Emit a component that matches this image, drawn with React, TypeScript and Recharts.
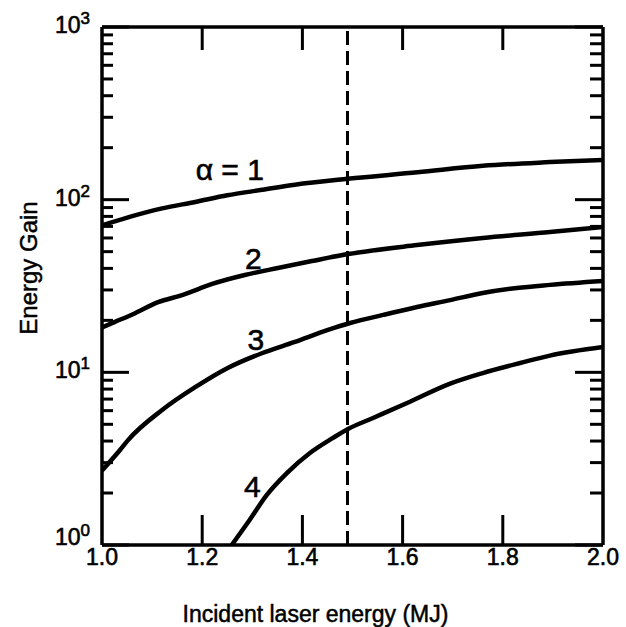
import React from 'react';
import { LineChart, Line, XAxis, YAxis, ReferenceLine, ReferenceDot } from 'recharts';

const FONT = '"Liberation Sans", Arial, Helvetica, sans-serif';

const xTicks = [1.0, 1.2, 1.4, 1.6, 1.8, 2.0];
const topTicks = [1.2, 1.4, 1.6, 1.8];
const yTicks = [
  1, 2, 3, 4, 5, 6, 7, 8, 9,
  10, 20, 30, 40, 50, 60, 70, 80, 90,
  100, 200, 300, 400, 500, 600, 700, 800, 900,
  1000,
];

const alpha1 = [
  { x: 1.0, y: 71 }, { x: 1.052, y: 79 }, { x: 1.12, y: 89 }, { x: 1.186, y: 97 },
  { x: 1.25, y: 106 }, { x: 1.32, y: 114 }, { x: 1.385, y: 122 }, { x: 1.49, y: 132 },
  { x: 1.63, y: 144 }, { x: 1.76, y: 157 }, { x: 1.894, y: 165 }, { x: 2.0, y: 170 },
];
const alpha2 = [
  { x: 1.0, y: 18.2 }, { x: 1.026, y: 19.6 }, { x: 1.066, y: 22.0 }, { x: 1.112, y: 25.5 },
  { x: 1.16, y: 28.0 }, { x: 1.22, y: 32.5 }, { x: 1.285, y: 36.6 }, { x: 1.351, y: 40.2 },
  { x: 1.419, y: 44.1 }, { x: 1.491, y: 48.4 }, { x: 1.629, y: 54.6 }, { x: 1.76, y: 60 },
  { x: 1.894, y: 64.9 }, { x: 2.0, y: 69.4 },
];
const alpha3 = [
  { x: 1.0, y: 2.7 }, { x: 1.036, y: 3.55 }, { x: 1.052, y: 4.05 }, { x: 1.12, y: 6.05 },
  { x: 1.186, y: 8.2 }, { x: 1.251, y: 10.6 }, { x: 1.319, y: 12.9 }, { x: 1.385, y: 15.0 },
  { x: 1.451, y: 17.6 }, { x: 1.495, y: 19.3 }, { x: 1.561, y: 21.5 }, { x: 1.629, y: 23.9 },
  { x: 1.695, y: 26.2 }, { x: 1.76, y: 28.8 }, { x: 1.828, y: 30.8 }, { x: 1.894, y: 32.1 },
  { x: 2.0, y: 33.8 },
];
const alpha4 = [
  { x: 1.259, y: 1.0 }, { x: 1.295, y: 1.4 }, { x: 1.329, y: 1.95 }, { x: 1.369, y: 2.61 },
  { x: 1.415, y: 3.41 }, { x: 1.461, y: 4.17 }, { x: 1.491, y: 4.7 }, { x: 1.541, y: 5.44 },
  { x: 1.609, y: 6.64 }, { x: 1.695, y: 8.6 }, { x: 1.76, y: 9.9 }, { x: 1.828, y: 11.2 },
  { x: 1.894, y: 12.5 }, { x: 2.0, y: 14.0 },
];

const curveLabels = [
  { text: 'α = 1', x: 1.255, y: 150 },
  { text: '2', x: 1.302, y: 46 },
  { text: '3', x: 1.307, y: 15.6 },
  { text: '4', x: 1.3, y: 2.2 },
];

const referenceEnergy = 1.49;

const isMajor = (v: number) => {
  const e = Math.round(Math.log10(v));
  return Math.abs(Math.pow(10, e) - v) < 1e-9;
};

const LeftTick = (props: any) => {
  const { x, y, payload } = props;
  const v = Number(payload.value);
  const major = isMajor(v);
  const e = Math.round(Math.log10(v));
  return (
    <g>
      <line x1={x} y1={y} x2={x + (major ? 27 : 11)} y2={y} stroke="#000" strokeWidth={3} />
      {major ? (
        <text x={x - 12} y={y + (e === 0 ? 0 : 6)} textAnchor="end" fontSize={23} fontFamily={FONT} fill="#000" stroke="#000" strokeWidth={0.6}>
          10
          <tspan dy={-9} fontSize={17}>{e}</tspan>
        </text>
      ) : null}
    </g>
  );
};

const RightTick = (props: any) => {
  const { x, y, payload } = props;
  const major = isMajor(Number(payload.value));
  return <line x1={x} y1={y} x2={x - (major ? 28 : 13)} y2={y} stroke="#000" strokeWidth={3} />;
};

const BottomTick = (props: any) => {
  const { x, y, payload } = props;
  const v = Number(payload.value);
  const edge = Math.abs(v - 1) < 1e-9 || Math.abs(v - 2) < 1e-9;
  return (
    <g>
      {!edge && <line x1={x} y1={y} x2={x} y2={y - 30} stroke="#000" strokeWidth={3} />}
      <text x={x} y={y + 20} textAnchor="middle" fontSize={23} fontFamily={FONT} fill="#000" stroke="#000" strokeWidth={0.6}>
        {v.toFixed(1)}
      </text>
    </g>
  );
};

const TopTick = (props: any) => {
  const { x, y } = props;
  return <line x1={x} y1={y} x2={x} y2={y + 23} stroke="#000" strokeWidth={3} />;
};

const axisLine = { stroke: '#000', strokeWidth: 3.5 };

export default function App() {
  return (
    <div style={{ position: 'absolute', left: 0, top: 0, background: '#fff' }}>
      <LineChart width={626} height={627} margin={{ top: 26, right: 22, bottom: 52, left: 42 }}>
        <XAxis
          xAxisId="b"
          type="number"
          dataKey="x"
          domain={[1, 2]}
          ticks={xTicks}
          interval={0}
          allowDataOverflow
          height={30}
          tickSize={0}
          tickMargin={0}
          tickLine={false}
          axisLine={axisLine}
          tick={<BottomTick />}
          label={{
            content: (p: any) => {
              const vb = p.viewBox;
              return (
                <text x={vb.x + vb.width / 2 - 37} y={vb.y + 77} textAnchor="middle" fontSize={23} fontFamily={FONT} fill="#000" stroke="#000" strokeWidth={0.5}>
                  Incident laser energy (MJ)
                </text>
              );
            },
          }}
        />
        <XAxis
          xAxisId="t"
          orientation="top"
          type="number"
          dataKey="x"
          domain={[1, 2]}
          ticks={topTicks}
          interval={0}
          allowDataOverflow
          height={1}
          tickSize={0}
          tickMargin={0}
          tickLine={false}
          axisLine={axisLine}
          tick={<TopTick />}
        />
        <YAxis
          yAxisId="l"
          type="number"
          scale="log"
          domain={[1, 1000]}
          ticks={yTicks}
          interval={0}
          minTickGap={0}
          allowDataOverflow
          width={60}
          tickSize={0}
          tickMargin={0}
          tickLine={false}
          axisLine={axisLine}
          tick={<LeftTick />}
          label={{
            content: (p: any) => {
              const vb = p.viewBox;
              const cx = vb.x - 14;
              const cy = vb.y + vb.height / 2 - 18;
              return (
                <text
                  x={cx}
                  y={cy}
                  transform={`rotate(-90 ${cx} ${cy})`}
                  textAnchor="middle"
                  dominantBaseline="central"
                  fontSize={24}
                  fontFamily={FONT}
                  fill="#000"
                  stroke="#000"
                  strokeWidth={0.5}
                >
                  Energy Gain
                </text>
              );
            },
          }}
        />
        <YAxis
          yAxisId="r"
          orientation="right"
          type="number"
          scale="log"
          domain={[1, 1000]}
          ticks={yTicks}
          interval={0}
          minTickGap={0}
          allowDataOverflow
          width={1}
          tickSize={0}
          tickMargin={0}
          tickLine={false}
          axisLine={axisLine}
          tick={<RightTick />}
        />
        <ReferenceLine
          xAxisId="b"
          yAxisId="l"
          x={referenceEnergy}
          stroke="#000"
          strokeWidth={3}
          strokeDasharray="14 6"
        />
        {[alpha1, alpha2, alpha3, alpha4].map((d, i) => (
          <Line
            key={i}
            xAxisId="b"
            yAxisId="l"
            data={d}
            dataKey="y"
            type="monotone"
            stroke="#000"
            strokeWidth={4.5}
            dot={false}
            activeDot={false}
            isAnimationActive={false}
          />
        ))}
        {curveLabels.map((c, i) => (
          <ReferenceDot
            key={i}
            xAxisId="b"
            yAxisId="l"
            x={c.x}
            y={c.y}
            r={0}
            fill="none"
            stroke="none"
            label={{ value: c.text, position: 'center', fontSize: 30, fill: '#000', fontFamily: FONT, stroke: '#000', strokeWidth: 0.6 }}
          />
        ))}
      </LineChart>
    </div>
  );
}
